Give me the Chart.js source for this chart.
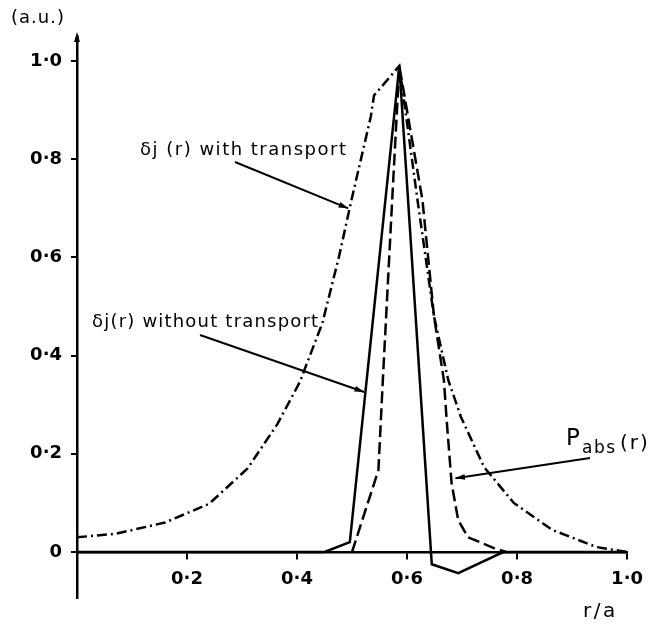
<!DOCTYPE html>
<html>
<head>
<meta charset="utf-8">
<script src="https://cdn.jsdelivr.net/npm/chart.js@4/dist/chart.umd.min.js"></script>
<style>
  html, body { margin: 0; padding: 0; background: #fff; }
</style>
</head>
<body>
<canvas id="c" width="654" height="625"></canvas>
<script>
// values, r/a on x, arbitrary units on y
const withX = [0, 0.07, 0.16, 0.24, 0.31, 0.364, 0.405, 0.446, 0.476, 0.499, 0.534, 0.54, 0.586,
  0.619, 0.649, 0.675, 0.698, 0.74, 0.794, 0.864, 0.945, 1.0];
const withY = [0.03, 0.037, 0.06, 0.098, 0.17, 0.26, 0.346, 0.466, 0.60, 0.717, 0.886, 0.93, 0.99,
  0.717, 0.48, 0.35, 0.275, 0.173, 0.10, 0.045, 0.01, 0];

const withoutX = [0, 0.45, 0.496, 0.586, 0.645, 0.693, 0.775, 1.0];
const withoutY = [0, 0, 0.02, 0.99, -0.025, -0.043, 0, 0];

const pabsX = [0.5, 0.548, 0.556, 0.573, 0.586, 0.628, 0.649, 0.667, 0.672, 0.681, 0.693, 0.711, 0.758, 0.78];
const pabsY = [0, 0.167, 0.35, 0.717, 0.99, 0.717, 0.48, 0.35, 0.27, 0.14, 0.065, 0.03, 0.008, 0];

const xTicks = [0.2, 0.4, 0.6, 0.8, 1.0];
const yTicks = [0, 0.2, 0.4, 0.6, 0.8, 1.0];

const pts = (xs, ys) => xs.map((v, i) => ({ x: v, y: ys[i] }));
const fmt = (v) => (v === 0 ? '0' : v.toFixed(1).replace('.', '·'));

function arrow(ctx, x0, y0, x1, y1) {
  const a = Math.atan2(y1 - y0, x1 - x0);
  ctx.beginPath();
  ctx.moveTo(x0, y0);
  ctx.lineTo(x1, y1);
  ctx.stroke();
  ctx.beginPath();
  ctx.moveTo(x1, y1);
  ctx.lineTo(x1 - 10 * Math.cos(a - 0.3), y1 - 10 * Math.sin(a - 0.3));
  ctx.lineTo(x1 - 10 * Math.cos(a + 0.3), y1 - 10 * Math.sin(a + 0.3));
  ctx.closePath();
  ctx.fill();
}

function label(ctx, text, x, y, size, spacing) {
  ctx.font = size + 'px "DejaVu Sans"';
  ctx.letterSpacing = spacing + 'px';
  ctx.fillText(text, x, y);
}

// labels and pointer arrows
const notes = {
  id: 'notes',
  afterDraw(chart) {
    const { ctx, chartArea } = chart;
    const sx = chart.scales.x, sy = chart.scales.y;
    ctx.save();
    ctx.fillStyle = '#000';
    ctx.strokeStyle = '#000';
    ctx.lineWidth = 2;
    ctx.textBaseline = 'middle';

    label(ctx, '(a.u.)', 11, 18, 18, 1);
    label(ctx, 'δj (r) with transport', 140, 150, 18, 1.5);
    label(ctx, 'δj(r) without transport', 92, 322, 18, 1.2);
    arrow(ctx, 235, 162, sx.getPixelForValue(0.493), sy.getPixelForValue(0.70));
    arrow(ctx, 200, 335, sx.getPixelForValue(0.522), sy.getPixelForValue(0.326));

    label(ctx, 'P', 566, 439, 23, 0);
    label(ctx, 'abs', 582, 449, 17, 1.5);
    label(ctx, '(r)', 620, 444, 20, 2);
    arrow(ctx, 590, 458, sx.getPixelForValue(0.688), sy.getPixelForValue(0.15));

    label(ctx, 'r/a', 583, 612, 20, 2.5);

    // arrow tip on top of the y axis
    const ax = chartArea.left;
    ctx.beginPath();
    ctx.moveTo(ax, chartArea.top - 4);
    ctx.lineTo(ax - 3, chartArea.top + 6);
    ctx.lineTo(ax + 3, chartArea.top + 6);
    ctx.closePath();
    ctx.fill();
    ctx.restore();
  }
};

Chart.defaults.font.family = '"DejaVu Sans"';
Chart.defaults.color = '#000';

new Chart(document.getElementById('c'), {
  type: 'scatter',
  data: {
    datasets: [
      {
        label: 'δj(r) with transport',
        data: pts(withX, withY),
        showLine: true,
        borderColor: '#000',
        borderWidth: 2.5,
        borderDash: [10, 4, 2, 4],
        pointRadius: 0,
        tension: 0
      },
      {
        label: 'δj(r) without transport',
        data: pts(withoutX, withoutY),
        showLine: true,
        borderColor: '#000',
        borderWidth: 2.5,
        pointRadius: 0,
        tension: 0
      },
      {
        label: 'Pabs(r)',
        data: pts(pabsX, pabsY),
        showLine: true,
        borderColor: '#000',
        borderWidth: 2.5,
        borderDash: [12, 5],
        pointRadius: 0,
        tension: 0
      }
    ]
  },
  options: {
    responsive: false,
    animation: false,
    layout: { padding: { left: 0, top: 36, right: 10, bottom: 27 } },
    plugins: { legend: { display: false }, tooltip: { enabled: false } },
    scales: {
      x: {
        type: 'linear',
        position: { y: 0 },
        min: 0,
        max: 1.0,
        afterFit: (s) => { s.height = 0; },
        afterBuildTicks: (s) => { s.ticks = xTicks.map((v) => ({ value: v })); },
        grid: { drawOnChartArea: false, drawTicks: true, tickLength: 6, color: '#000', lineWidth: 2 },
        border: { display: true, color: '#000', width: 2.5 },
        ticks: { padding: 11, font: { size: 18, weight: 'bold' }, callback: fmt }
      },
      y: {
        type: 'linear',
        position: 'left',
        min: -0.0937,
        max: 1.051,
        afterFit: (s) => { s.width = 77; },
        afterBuildTicks: (s) => { s.ticks = yTicks.map((v) => ({ value: v })); },
        grid: { drawOnChartArea: false, drawTicks: true, tickLength: 6, color: '#000', lineWidth: 2 },
        border: { display: true, color: '#000', width: 2.5 },
        ticks: { padding: 9, font: { size: 18, weight: 'bold' }, callback: fmt }
      }
    }
  },
  plugins: [notes]
});
</script>
</body>
</html>
